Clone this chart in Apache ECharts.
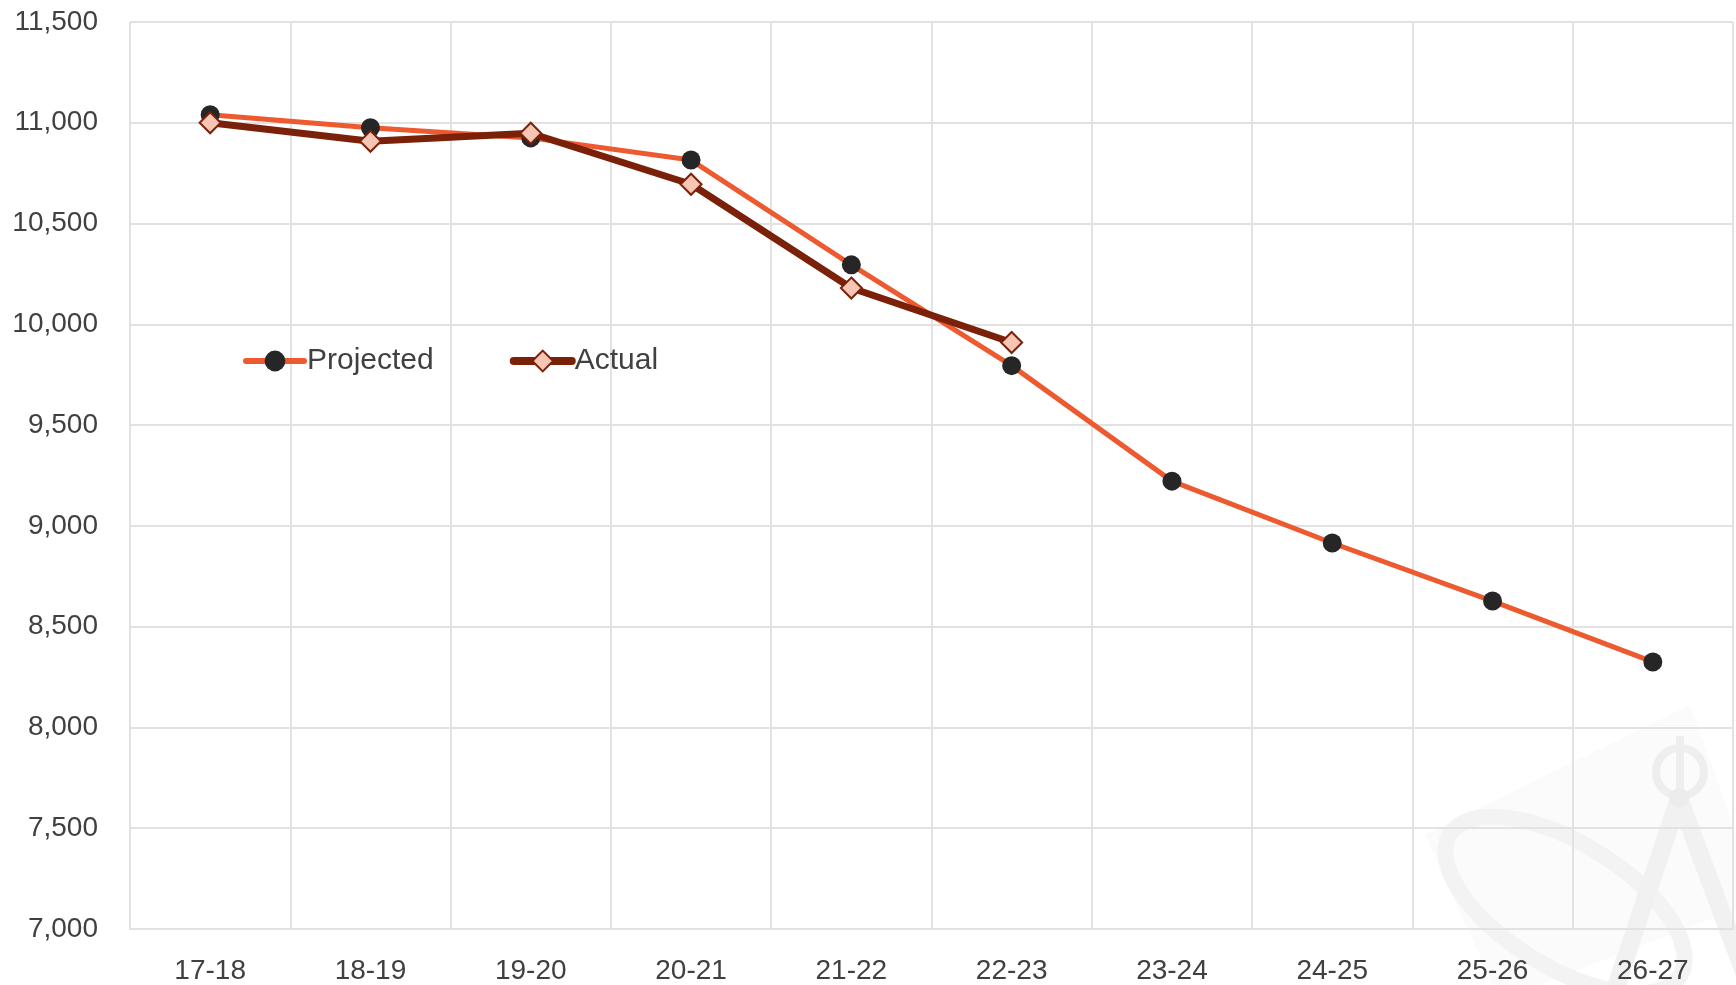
<!DOCTYPE html>
<html>
<head>
<meta charset="utf-8">
<style>
  html, body { margin: 0; padding: 0; background: #fff; }
  #chart { width: 1736px; height: 985px; }
</style>
<script src="https://cdn.jsdelivr.net/npm/echarts@6/dist/echarts.min.js"></script>
</head>
<body>
<div id="chart"></div>
<script>
// 数据
const categories = ["17-18", "18-19", "19-20", "20-21", "21-22", "22-23", "23-24", "24-25", "25-26", "26-27"];
const projected = [11040, 10975, 10925, 10815, 10295, 9795, 9222, 8915, 8627, 8325];
const actual = [11000, 10908, 10948, 10695, 10180, 9910];
const yTicks = { min: 7000, max: 11500, step: 500 };

const textColor = "#404040";
const gridColor = "#e2e2e2";
const fontName = "Liberation Sans";
const orange = "#ee5a2f";
const brown = "#7b2109";

const chart = echarts.init(document.getElementById("chart"));

// 背景水印 (compass logo)
const watermark = [
  {
    type: "polygon",
    z: -10,
    shape: { points: [[1425, 835], [1690, 705], [1760, 900], [1500, 1000]] },
    style: { fill: "#fbfbfb" }
  },
  {
    type: "ellipse",
    z: -9,
    x: 1565, y: 905, rotation: -0.55,
    shape: { cx: 0, cy: 0, rx: 135, ry: 62 },
    style: { fill: "none", stroke: "#f3f3f3", lineWidth: 16 }
  },
  {
    type: "line",
    z: -9,
    shape: { x1: 1679, y1: 798, x2: 1615, y2: 990 },
    style: { stroke: "#f1f1f1", lineWidth: 18 }
  },
  {
    type: "line",
    z: -9,
    shape: { x1: 1679, y1: 798, x2: 1745, y2: 975 },
    style: { stroke: "#f1f1f1", lineWidth: 18 }
  },
  {
    type: "circle",
    z: -9,
    shape: { cx: 1680, cy: 772, r: 24 },
    style: { fill: "none", stroke: "#eeeeee", lineWidth: 8 }
  },
  {
    type: "line",
    z: -9,
    shape: { x1: 1680, y1: 736, x2: 1680, y2: 796 },
    style: { stroke: "#eeeeee", lineWidth: 8 }
  },
  {
    type: "circle",
    z: -9,
    shape: { cx: 1679, cy: 798, r: 10 },
    style: { fill: "#ececec" }
  }
];

const option = {
  animation: false,
  backgroundColor: "#ffffff",
  textStyle: { fontFamily: fontName },
  graphic: watermark,
  grid: {
    left: 130,
    right: 3,
    top: 22,
    bottom: 55,
    containLabel: false
  },
  legend: {
    left: 238,
    top: 341,
    itemWidth: 58,
    itemHeight: 26,
    itemGap: 76,
    textStyle: { fontSize: 30, color: textColor, fontFamily: fontName, padding: [0, 0, 0, -2] },
    data: [
      { name: "Projected", lineStyle: { width: 6, color: orange } },
      { name: "Actual", lineStyle: { width: 8, color: brown } }
    ]
  },
  xAxis: {
    type: "category",
    data: categories,
    boundaryGap: true,
    axisLine: { show: true, lineStyle: { color: gridColor, width: 2 } },
    axisTick: { show: false },
    axisLabel: { fontSize: 28, color: textColor, margin: 28 },
    splitLine: { show: true, lineStyle: { color: gridColor, width: 2 } }
  },
  yAxis: {
    type: "value",
    min: yTicks.min,
    max: yTicks.max,
    interval: yTicks.step,
    axisLine: { show: false },
    axisTick: { show: false },
    axisLabel: {
      fontSize: 28,
      color: textColor,
      margin: 32,
      formatter: (v) => v.toLocaleString("en-US")
    },
    splitLine: { show: true, lineStyle: { color: gridColor, width: 2 } }
  },
  series: [
    {
      name: "Projected",
      type: "line",
      data: projected,
      z: 2,
      symbol: "circle",
      symbolSize: 19,
      lineStyle: { color: orange, width: 5, cap: "round", join: "round" },
      itemStyle: { color: "#262626", borderWidth: 0 }
    },
    {
      name: "Actual",
      type: "line",
      data: actual,
      z: 3,
      symbol: "diamond",
      symbolSize: 21,
      lineStyle: { color: brown, width: 7, cap: "round", join: "round" },
      itemStyle: { color: "#f7c5b4", borderColor: brown, borderWidth: 2 }
    }
  ]
};

chart.setOption(option);
</script>
</body>
</html>
